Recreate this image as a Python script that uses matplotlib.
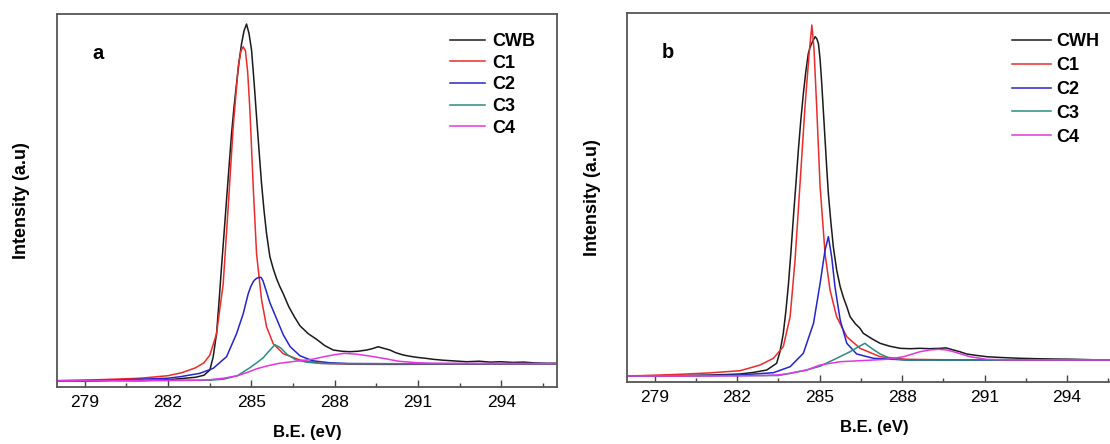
"""
XPS C 1s deconvolution of CWB (a) and CWH (b), two panels side by side.
"""

import matplotlib
matplotlib.use("Agg")
import matplotlib.pyplot as plt
from matplotlib.ticker import MultipleLocator

plt.rcParams['font.family'] = ['Liberation Sans', 'DejaVu Sans']

# ---- panel a: CWB ----
A_CWB_X = [278.0, 279.0, 280.0, 281.0, 282.0, 282.44, 283.0, 283.3, 283.51, 283.63,
           283.75, 283.84, 283.93, 284.02, 284.11, 284.2, 284.29, 284.38, 284.47, 284.56,
           284.65, 284.74, 284.83, 284.92, 285.01, 285.1, 285.19, 285.28, 285.37, 285.46,
           285.55, 285.67, 285.79, 285.91, 286.03, 286.15, 286.35, 286.55, 286.75, 287.05,
           287.35, 287.65, 287.95, 288.25, 288.55, 288.85, 289.15, 289.35, 289.57, 289.75,
           289.99, 290.2, 290.47, 290.7, 290.95, 291.25, 291.55, 291.9, 292.3, 292.75,
           293.2, 293.6, 293.95, 294.4, 294.8, 295.2, 295.7, 296.0]
A_CWB_Y = [6, 5.5, 6.3, 6, 7, 8, 9.5, 11.5, 16.7, 30,
           53, 85, 120, 153, 187, 220, 253, 280, 303, 325,
           343, 356, 362.7, 353, 336.7, 305, 270, 236, 203, 176,
           153, 130, 118, 108, 100, 93, 80, 70, 61, 53,
           47.4, 41, 36.7, 35.5, 35, 35.5, 36.7, 38, 40, 38.5,
           36.7, 34, 31.7, 30.5, 29.4, 28.5, 27.4, 26.5, 25.8, 25,
           25.5, 24.6, 25, 24.3, 24.6, 23.8, 23.4, 23.5]

A_C1_X = [278.0, 279.0, 280.0, 281.0, 282.0, 282.5, 283.0, 283.3, 283.51, 283.75,
          283.99, 284.17, 284.35, 284.53, 284.63, 284.71, 284.79, 284.87, 284.95, 285.07,
          285.19, 285.37, 285.55, 285.79, 286.15, 286.75, 287.47, 288.5, 290.0, 292.0, 296.0]
A_C1_Y = [6, 6.5, 7.5, 8.5, 11, 14, 19, 24, 31.7, 53,
          103, 180, 260, 320, 336, 340, 336, 315, 277, 200,
          133, 87, 60, 43, 33, 26.7, 23.4, 22.5, 22.3, 22.5, 22.8]

A_C2_X = [278.0, 280.0, 282.0, 282.44, 283.15, 283.63, 284.11, 284.47, 284.71, 284.89,
          284.98, 285.07, 285.13, 285.2, 285.27, 285.35, 285.42, 285.49, 285.58, 285.67,
          285.79, 285.91, 286.03, 286.15, 286.4, 286.75, 287.2, 287.8, 288.5, 290.0,
          292.0, 296.0]
A_C2_Y = [6, 6.5, 8.5, 10, 13.4, 18.4, 30, 53, 73, 93,
          100, 105, 107, 108.5, 109.2, 109.4, 106, 100, 92, 84,
          76, 68, 60, 52, 40, 31, 26, 24, 23.2, 23,
          23, 23]

A_C3_X = [278.0, 283.5, 284.0, 284.5, 284.95, 285.2, 285.43, 285.65, 285.85, 286.05,
          286.3, 286.6, 287.0, 287.5, 288.5, 290.0, 296.0]
A_C3_Y = [6, 6.5, 7.5, 11, 19, 24, 29, 36, 42, 39,
          32, 27, 24.5, 23.3, 23, 23, 23]

A_C4_X = [278.0, 280.0, 282.0, 283.0, 283.5, 284.0, 284.5, 284.83, 285.2, 285.6,
          286.0, 286.6, 287.2, 287.7, 288.0, 288.35, 288.8, 289.3, 289.75, 290.3,
          290.95, 291.5, 293.0, 296.0]
A_C4_Y = [6, 6, 6.3, 6.5, 7, 8.5, 11, 14, 18, 21,
          23.4, 25.5, 27.5, 30.5, 32, 33.4, 32.5, 30.5, 28.4, 25.5,
          24, 23.5, 23.3, 23.2]

# ---- panel b: CWH ----
B_CWH_X = [278.0, 279.0, 280.0, 281.0, 282.11, 282.6, 283.08, 283.44, 283.56, 283.68,
           283.78, 283.87, 283.96, 284.05, 284.14, 284.23, 284.32, 284.41, 284.5, 284.59,
           284.65, 284.71, 284.78, 284.84, 284.9, 284.96, 285.02, 285.08, 285.14, 285.2,
           285.26, 285.32, 285.41, 285.5, 285.62, 285.75, 285.87, 285.99, 286.11, 286.3,
           286.47, 286.59, 286.9, 287.2, 287.55, 287.93, 288.3, 288.65, 289.0, 289.38,
           289.6, 289.87, 290.1, 290.35, 290.7, 291.08, 291.6, 292.29, 292.9, 293.5,
           294.2, 294.9, 295.56, 296.0]
B_CWH_Y = [5.7, 5.9, 6.2, 6.6, 7.7, 9.3, 11.7, 18.4, 30, 48,
           72, 98, 130, 165, 198, 232, 262, 288, 310, 328,
           334, 338, 342, 345, 343, 338, 322, 298, 270, 242,
           214, 188, 160, 135, 112, 95, 84, 75, 65, 58,
           53.4, 48.4, 43, 38.4, 35.5, 33.4, 33, 33.4, 33, 33.4,
           33.8, 31.7, 30, 27.7, 26.3, 25, 24.2, 23.4, 23.0, 22.7,
           22.5, 22.0, 21.7, 21.7]

B_C1_X = [278.0, 279.0, 280.0, 281.0, 282.11, 282.84, 283.32, 283.68, 283.93, 284.11,
          284.29, 284.47, 284.62, 284.72, 284.8, 284.9, 285.02, 285.2, 285.38, 285.62,
          285.99, 286.47, 287.2, 288.17, 290.0, 292.0, 296.0]
B_C1_Y = [5.7, 6.5, 7.5, 8.8, 11, 16.7, 23.4, 35, 65, 122,
          198, 275, 328, 356.7, 331.7, 271.7, 195, 128, 91.7, 65,
          45, 33.4, 25, 22.4, 21.8, 21.7, 21.7]

B_C2_X = [278.0, 280.0, 282.11, 283.32, 283.93, 284.41, 284.78, 285.02, 285.2, 285.32,
          285.44, 285.56, 285.75, 285.99, 286.35, 286.96, 288.17, 290.0, 296.0]
B_C2_Y = [5.7, 5.9, 6.7, 9, 15, 28.4, 58.4, 98.4, 131.7, 145,
          125, 95, 61.7, 38.4, 27.7, 23.4, 21.7, 21.7, 21.7]

B_C3_X = [278.0, 283.5, 283.93, 284.53, 285.02, 285.62, 286.11, 286.45, 286.65, 286.84,
          287.2, 287.56, 288.17, 290.0, 296.0]
B_C3_Y = [5.7, 6.2, 8.4, 11.7, 15.5, 23.4, 30, 35.5, 38.4, 34.4,
          27.7, 23.4, 21.7, 21.7, 21.7]

B_C4_X = [278.0, 280.0, 282.0, 283.0, 283.5, 283.93, 284.53, 285.02, 285.75, 286.96,
          287.44, 288.05, 288.65, 289.0, 289.32, 289.6, 289.87, 290.47, 291.08, 292.0, 296.0]
B_C4_Y = [5.7, 5.7, 5.9, 6.2, 6.8, 8.4, 11.7, 16.7, 20, 21.7,
          22.4, 25, 30, 31.7, 32.4, 31.8, 30, 25, 22.4, 21.8, 21.7]

COLORS = ['#1a1a1a', '#ee2a2a', '#2424cc', '#2a8c80', '#e435e4']
X_TICKS = [279, 282, 285, 288, 291, 294]


def draw_panel(ax, curves, names, letter, ytop, leg_anchor, leg_opts):
    """Plot the envelope and the four fitted components on one axes."""
    for (x, y), name, color in zip(curves, names, COLORS):
        ax.plot(x, y, color=color, linewidth=1.1, label=name)

    ax.set_xlim(278, 296)
    ax.set_ylim(0, ytop)
    ax.set_xticks(X_TICKS)
    ax.xaxis.set_minor_locator(MultipleLocator(1.5))
    ax.set_yticks([])
    ax.tick_params(axis='x', which='major', direction='in', length=5,
                   width=1.0, color='#444444', labelsize=12.5, pad=6)
    ax.tick_params(axis='x', which='minor', direction='in', length=3,
                   width=1.0, color='#444444')
    for spine in ax.spines.values():
        spine.set_color('#555555')
        spine.set_linewidth(1.3)

    ax.set_xlabel('B.E. (eV)', fontsize=12, fontweight='bold')
    ax.set_ylabel('Intensity (a.u)', fontsize=13, fontweight='bold')
    ax.xaxis.set_label_coords(0.5, -0.104)
    ax.yaxis.set_label_coords(-0.053, 0.5)

    ax.text(0.083, 0.895, letter, transform=ax.transAxes, fontsize=14.5,
            fontweight='bold', ha='center', va='center')

    ax.legend(loc='upper left', bbox_to_anchor=leg_anchor, frameon=False,
              borderpad=0, borderaxespad=0, prop={'weight': 'bold', 'size': 13},
              **leg_opts)


def main():
    fig = plt.figure(figsize=(11.1, 4.44), dpi=100)

    ax_a = fig.add_axes([0.0511, 0.129, 0.4507, 0.8394])
    draw_panel(ax_a,
               [(A_CWB_X, A_CWB_Y), (A_C1_X, A_C1_Y), (A_C2_X, A_C2_Y),
                (A_C3_X, A_C3_Y), (A_C4_X, A_C4_Y)],
               ['CWB', 'C1', 'C2', 'C3', 'C4'], 'a', 372.7, (0.786, 0.949),
               dict(handlelength=1.95, handletextpad=0.37, labelspacing=0.26))

    # right panel runs past the figure edge, as in the original
    ax_b = fig.add_axes([0.5649, 0.1403, 0.446, 0.8297])
    draw_panel(ax_b,
               [(B_CWH_X, B_CWH_Y), (B_C1_X, B_C1_Y), (B_C2_X, B_C2_Y),
                (B_C3_X, B_C3_Y), (B_C4_X, B_C4_Y)],
               ['CWH', 'C1', 'C2', 'C3', 'C4'], 'b', 368.4, (0.777, 0.946),
               dict(handlelength=2.2, handletextpad=0.25, labelspacing=0.38))

    fig.savefig('out.png', dpi=100)
    plt.close(fig)


if __name__ == '__main__':
    main()
